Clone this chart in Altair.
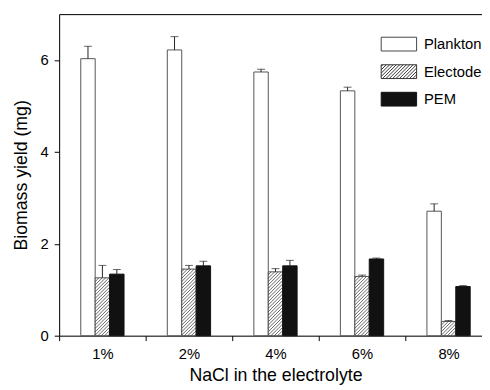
import altair as alt
import pandas as pd
import numpy as np

# ---------------- data ----------------
categories = ["1%", "2%", "4%", "6%", "8%"]
series = ["Plankton", "Electode", "PEM"]
plankton = [6.03, 6.22, 5.74, 5.33, 2.71]
plankton_err = [0.27, 0.29, 0.06, 0.08, 0.16]
electode = [1.26, 1.45, 1.39, 1.29, 0.31]
electode_err = [0.27, 0.08, 0.07, 0.03, 0.02]
pem = [1.34, 1.52, 1.52, 1.67, 1.07]
pem_err = [0.10, 0.10, 0.12, 0.02, 0.02]
y_ticks = [0, 2, 4, 6]
y_max = 7

rows = []
for s, vals, errs in zip(series, [plankton, electode, pem],
                         [plankton_err, electode_err, pem_err]):
    for c, v, e in zip(categories, vals, errs):
        rows.append({"cat": c, "series": s, "value": v, "hi": v + e})
df = pd.DataFrame(rows)

# ---------------- layout ----------------
PLOT_W = 430
RANGE_W = 440          # band range runs past the page edge, as in the figure
PLOT_H = 327
FONT = "Liberation Sans"
band_px = RANGE_W / len(categories)
val_px = PLOT_H / y_max
group_lo, group_hi = 0.25, 0.75   # bar group occupies the middle half of a band
sub_w = band_px * (group_hi - group_lo) / len(series)
elec_start = group_lo + (group_hi - group_lo) / len(series)  # in band units

# hatch lines for the Electode bars (decoration derived from the values)
HATCH_STEP = 3.4
hatch = []
for i, v in enumerate(electode):
    h_px = v * val_px
    left = i + elec_start
    for c in np.arange(-sub_w + HATCH_STEP / 2, h_px, HATCH_STEP):
        u1 = max(0.0, -c)
        u2 = min(sub_w, h_px - c)
        if u2 > u1:
            hatch.append({"x": left + u1 / band_px, "x2": left + u2 / band_px,
                          "y": (u1 + c) / val_px, "y2": (u2 + c) / val_px})
hatch_df = pd.DataFrame(hatch)

# legend symbol paths (unit box scaled by sqrt(size)/2)
hh = 7 / 18
p_rect = f"M-1,{-hh:.3f}H1V{hh:.3f}H-1Z"
segs = []
st = 0.19
x0 = -1 - 2 * hh + st / 2
while x0 < 1:
    t1 = max(0.0, -1 - x0)
    t2 = min(2 * hh, 1 - x0)
    if t2 > t1:
        segs.append(f"M{x0 + t1:.3f},{hh - t1:.3f}L{x0 + t2:.3f},{hh - t2:.3f}")
    x0 += st
p_hatch = p_rect + "".join(segs)

fill_range = ["white", "white", "#111111"]
legend_stroke_range = ["#444444", "#333333", "#111111"]

yscale = alt.Scale(domain=[0, y_max], nice=False, zero=True)
x_enc = alt.X("cat:N", sort=categories,
              scale=alt.Scale(domain=categories, range=[0, RANGE_W],
                              paddingInner=0, paddingOuter=0),
              axis=alt.Axis(title="NaCl in the electrolyte", tickBand="extent",
                            labelAngle=0, labelFontSize=15, titleFontSize=18,
                            labelPadding=6, titlePadding=6, tickSize=5,
                            titleFontWeight="normal", domainColor="black",
                            tickColor="black", labelColor="black",
                            titleColor="black", grid=False))
xoff = alt.XOffset("series:N", sort=series,
                   scale=alt.Scale(domain=series, paddingInner=0, paddingOuter=0,
                                   range=[band_px * group_lo, band_px * group_hi]))
y_axis = alt.Axis(title="Biomass yield (mg)", values=y_ticks, labelFontSize=15,
                  titleFontSize=18, titleFontWeight="normal", labelPadding=6,
                  titlePadding=10, tickSize=5, domainColor="black",
                  tickColor="black", labelColor="black", titleColor="black",
                  grid=False)

is_pem = "datum.series == 'PEM'"
base = alt.Chart(df)
bars = base.mark_bar(strokeWidth=1).encode(
    x=x_enc, xOffset=xoff,
    y=alt.Y("value:Q", scale=yscale, axis=y_axis),
    color=alt.condition(is_pem, alt.value("#111111"), alt.value("white")),
    stroke=alt.condition(is_pem, alt.value("#111111"), alt.value("#555555")),
)
err = base.mark_rule(color="#222222", strokeWidth=1).encode(
    x=x_enc, xOffset=xoff, y=alt.Y("value:Q", scale=yscale, axis=y_axis), y2="hi:Q")
cap = base.mark_tick(color="#222222", size=8, thickness=1).encode(
    x=x_enc, xOffset=xoff, y=alt.Y("hi:Q", scale=yscale, axis=y_axis))

legend_props = dict(orient="none", legendX=327, legendY=12, padding=0,
                    symbolSize=1296, symbolStrokeWidth=1, symbolOpacity=1,
                    labelFontSize=15, labelOffset=7, labelColor="black",
                    labelFont=FONT, rowPadding=0, title=None)

leg = alt.Chart(pd.DataFrame({"series": series, "zero": [0, 0, 0]})).mark_point(
    filled=False, opacity=0, strokeWidth=1).encode(
    y=alt.Y("zero:Q", scale=yscale, axis=y_axis),
    fill=alt.Fill("series:N", scale=alt.Scale(domain=series, range=fill_range),
                  legend=alt.Legend(**legend_props)),
    stroke=alt.Stroke("series:N", scale=alt.Scale(domain=series, range=legend_stroke_range),
                      legend=alt.Legend(**legend_props)),
    shape=alt.Shape("series:N", scale=alt.Scale(domain=series, range=[p_rect, p_hatch, p_rect]),
                    legend=alt.Legend(**legend_props)),
)

hatch_layer = alt.Chart(hatch_df).mark_rule(color="#222222", strokeWidth=0.7).encode(
    x=alt.X("x:Q", scale=alt.Scale(domain=[0, len(categories)], range=[0, RANGE_W], nice=False, zero=False),
            axis=alt.Axis(orient="top", labels=False, ticks=False, title=None, grid=False,
                          domainColor="black")),
    x2="x2:Q",
    y=alt.Y("y:Q", scale=yscale, axis=y_axis),
    y2="y2:Q",
)

chart = alt.layer(alt.layer(bars, err, cap, leg), hatch_layer).resolve_scale(
    x="independent"
).properties(
    width=PLOT_W, height=PLOT_H,
    padding={"left": 52, "top": 3, "right": 0, "bottom": 52},
    autosize=alt.AutoSizeParams(type="none"),
).configure_view(stroke=None).configure(font=FONT)

chart.save("out.html", embed_options={"renderer": "svg", "actions": False})
